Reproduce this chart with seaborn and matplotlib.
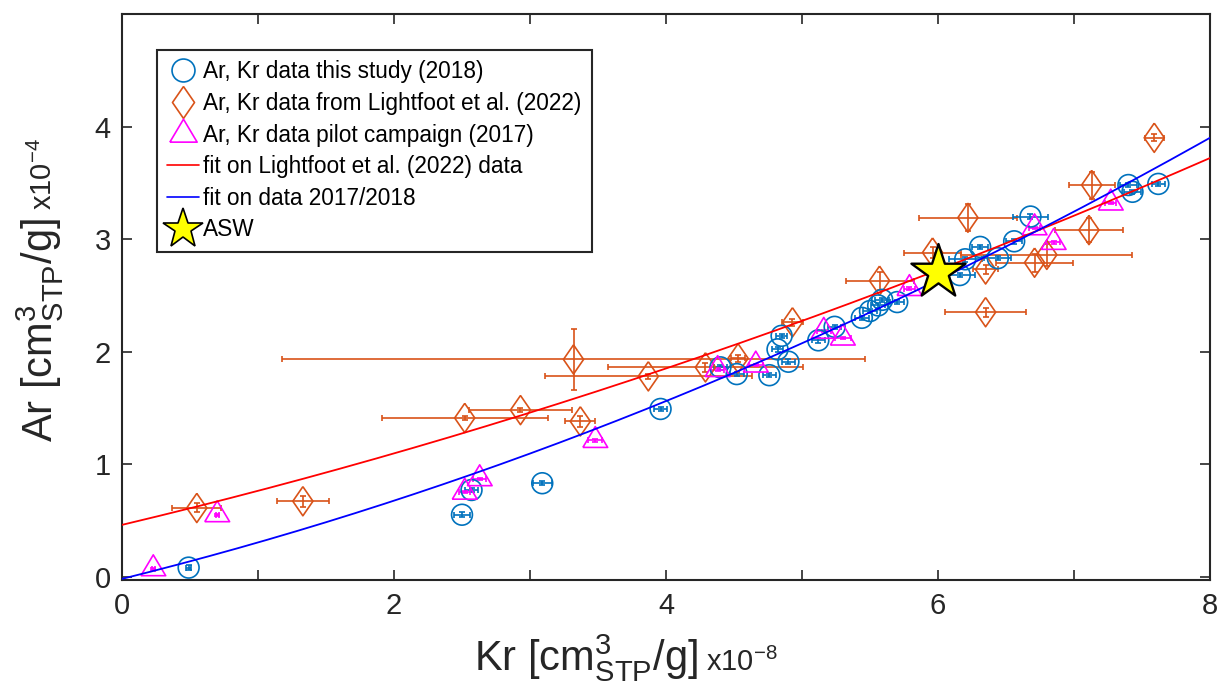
import numpy as np
import matplotlib
matplotlib.use("Agg")
import matplotlib.pyplot as plt
from matplotlib.lines import Line2D
import seaborn as sns

# ---------------- data (Kr in 1e-8 cm3STP/g, Ar in 1e-4 cm3STP/g) ----------------
kr_2018 = [0.49, 2.50, 2.57, 3.09, 3.96, 4.40, 4.52, 4.76, 4.90, 4.82, 4.85, 5.12, 5.24,
           5.44, 5.50, 5.56, 5.59, 5.70, 6.16, 6.20, 6.31, 6.44, 6.56, 6.68, 7.40, 7.43, 7.62]
ar_2018 = [0.08, 0.55, 0.77, 0.83, 1.49, 1.86, 1.80, 1.79, 1.91, 2.02, 2.14, 2.10, 2.22,
           2.30, 2.36, 2.41, 2.46, 2.44, 2.68, 2.82, 2.93, 2.83, 2.98, 3.20, 3.48, 3.42, 3.49]
kr_err_2018 = [0.02, 0.06, 0.05, 0.07, 0.05, 0.05, 0.05, 0.05, 0.05, 0.04, 0.04, 0.05, 0.05,
               0.05, 0.05, 0.05, 0.05, 0.05, 0.11, 0.12, 0.06, 0.10, 0.06, 0.13, 0.06, 0.06, 0.05]
ar_err_2018 = [0.02] * 27

kr_lf = [0.55, 1.33, 2.52, 2.93, 3.37, 3.32, 3.87, 4.29, 4.53, 4.93,
         5.57, 5.96, 6.22, 6.35, 6.35, 6.71, 6.80, 7.11, 7.13, 7.59]
ar_lf = [0.61, 0.67, 1.41, 1.48, 1.38, 1.93, 1.78, 1.86, 1.94, 2.26,
         2.63, 2.88, 3.19, 2.35, 2.73, 2.79, 2.86, 3.08, 3.48, 3.90]
kr_err_lf = [0.18, 0.19, 0.61, 0.38, 0.11, 2.14, 0.76, 0.72, 0.05, 0.08,
             0.25, 0.21, 0.36, 0.30, 0.09, 0.28, 0.63, 0.25, 0.17, 0.07]
ar_err_lf = [0.04, 0.05, 0.02, 0.02, 0.05, 0.27, 0.02, 0.04, 0.03, 0.03,
             0.08, 0.05, 0.12, 0.04, 0.04, 0.08, 0.10, 0.11, 0.12, 0.03]

kr_2017 = [0.23, 0.70, 2.52, 2.63, 3.48, 4.38, 4.66, 5.16, 5.30, 5.79, 6.71, 6.85, 7.27]
ar_2017 = [0.07, 0.55, 0.75, 0.87, 1.21, 1.84, 1.88, 2.18, 2.12, 2.56, 3.10, 2.97, 3.32]
kr_err_2017 = [0.01, 0.01, 0.04, 0.05, 0.05, 0.05, 0.05, 0.05, 0.06, 0.04, 0.04, 0.05, 0.04]
ar_err_2017 = [0.01] * 13

# polynomial fit coefficients (highest order first)
fit_lf_coef = [0.015, 0.2875, 0.46]
fit_new_coef = [0.02375, 0.30, -0.02]

asw_kr = [6.0]
asw_ar = [2.71]

labels = ["Ar, Kr data this study (2018)",
          "Ar, Kr data from Lightfoot et al. (2022)",
          "Ar, Kr data pilot campaign (2017)",
          "fit on Lightfoot et al. (2022) data",
          "fit on data 2017/2018",
          "ASW"]

# ---------------- style ----------------
sns.set_theme(style="white")
plt.rcParams["font.family"] = ["Liberation Sans", "DejaVu Sans"]
plt.rcParams["mathtext.fontset"] = "custom"
plt.rcParams["mathtext.rm"] = "Liberation Sans"
plt.rcParams["mathtext.it"] = "Liberation Sans:italic"
plt.rcParams["mathtext.bf"] = "Liberation Sans:bold"

C_BLUE = "#0072BD"
C_ORANGE = "#D95319"
C_MAG = "#FF00FF"
C_AX = "#262626"

diamond = [(0, 1), (0.69, 0), (0, -1), (-0.69, 0), (0, 1)]
triangle = [(-1, -0.56), (1, -0.56), (0, 1.12), (-1, -0.56)]

W, H = 1221, 684
fig = plt.figure(figsize=(W / 100, H / 100), dpi=100)
ax = fig.add_axes([122 / W, 104 / H, 1088 / W, 566 / H])

ekw = dict(fmt="none", elinewidth=1.2, capsize=2.2, capthick=1.2, zorder=2)
ax.errorbar(kr_lf, ar_lf, xerr=kr_err_lf, yerr=ar_err_lf, ecolor=C_ORANGE, **ekw)
ax.errorbar(kr_2018, ar_2018, xerr=kr_err_2018, yerr=ar_err_2018, ecolor=C_BLUE, **ekw)
ax.errorbar(kr_2017, ar_2017, xerr=kr_err_2017, yerr=ar_err_2017, ecolor=C_MAG, **ekw)


def hollow(x, y, marker, size, color):
    sns.scatterplot(x=x, y=y, marker=marker, s=size ** 2, ax=ax, legend=False, zorder=3)
    col = ax.collections[-1]
    col.set_facecolor("none")
    col.set_edgecolor(color)
    col.set_linewidth(1.2)


hollow(kr_lf, ar_lf, diamond, 21, C_ORANGE)
hollow(kr_2018, ar_2018, "o", 15, C_BLUE)
hollow(kr_2017, ar_2017, triangle, 20, C_MAG)

xfit = np.linspace(0, 8, 300)
sns.lineplot(x=xfit, y=np.polyval(fit_lf_coef, xfit), color="#FF0000", lw=1.3, ax=ax, zorder=4)
sns.lineplot(x=xfit, y=np.polyval(fit_new_coef, xfit), color="#0000FF", lw=1.3, ax=ax, zorder=4)

sns.scatterplot(x=asw_kr, y=asw_ar, marker="*", s=41 ** 2, color="#FFFF00",
                edgecolor="black", linewidth=1.7, ax=ax, legend=False, zorder=6)

ax.set_xlim(0, 8)
ax.set_ylim(-0.03, 5.0)
ax.set_xticks(range(9))
ax.set_xticklabels(["0", "", "2", "", "4", "", "6", "", "8"])
ax.set_yticks(range(5))
ax.set_yticklabels(["0", "1", "2", "3", "4"])
ax.tick_params(axis="both", direction="in", length=7, width=1.2, top=True, right=True,
               bottom=True, left=True, labelsize=21, colors=C_AX)
ax.tick_params(axis="x", pad=9)
ax.tick_params(axis="y", pad=8)
ax.set_xlabel("")
ax.set_ylabel("")
for s in ax.spines.values():
    s.set_linewidth(1.5)
    s.set_color(C_AX)
    s.set_visible(True)

handles = [
    Line2D([], [], ls="none", marker="o", ms=16.5, mfc="none", mec=C_BLUE, mew=1.2),
    Line2D([], [], ls="none", marker=diamond, ms=23, mfc="none", mec=C_ORANGE, mew=1.2),
    Line2D([], [], ls="none", marker=triangle, ms=22, mfc="none", mec=C_MAG, mew=1.2),
    Line2D([], [], color="#FF0000", lw=1.2),
    Line2D([], [], color="#0000FF", lw=1.2),
    Line2D([], [], ls="none", marker="*", ms=30, mfc="#FFFF00", mec="black", mew=1.2),
]
leg = ax.legend(handles, labels, loc="upper left", bbox_to_anchor=(0.032, 0.936),
                borderaxespad=0, fontsize=16.3, frameon=True, fancybox=False,
                edgecolor=C_AX, framealpha=1, labelspacing=0.38, handlelength=1.4,
                handletextpad=0.2, borderpad=0.45)
leg.get_frame().set_linewidth(1.5)
for t in leg.get_texts():
    t.set_color("black")

# axis labels (two-size text like the original)
xl1 = fig.text(474 / W, 1 - 671 / H, r"Kr [cm$^{3}_{\mathrm{STP}}$/g]", fontsize=30,
               color=C_AX, ha="left", va="baseline")
yl1 = fig.text(52 / W, 1 - 442 / H, r"Ar [cm$^{3}_{\mathrm{STP}}$/g]", fontsize=30,
               color=C_AX, ha="left", va="baseline", rotation=90, rotation_mode="anchor")
fig.canvas.draw()
r = fig.canvas.get_renderer()
bx = xl1.get_window_extent(r)
by = yl1.get_window_extent(r)
fig.text((bx.x1 + 8) / W, 1 - 671 / H, r"x10$^{-8}$", fontsize=21, color=C_AX,
         ha="left", va="baseline")
fig.text(52 / W, (by.y1 + 8) / H, r"x10$^{-4}$", fontsize=21, color=C_AX,
         ha="left", va="baseline", rotation=90, rotation_mode="anchor")

fig.savefig("out.png", dpi=100)
